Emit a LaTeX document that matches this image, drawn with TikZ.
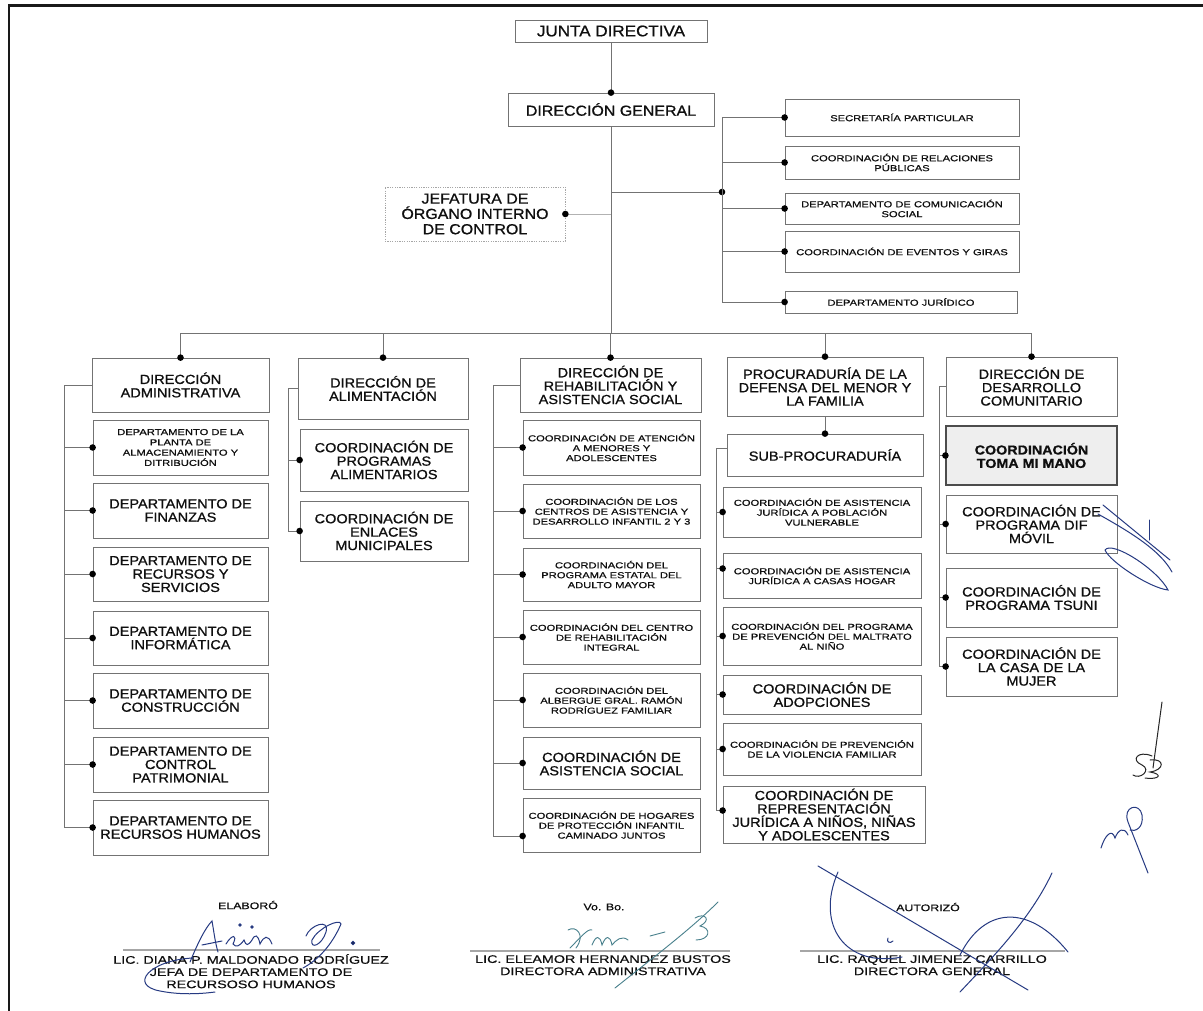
\documentclass[tikz,border=0pt]{standalone}
\usepackage{fontspec}
\setmainfont{Liberation Sans}
\newfontfamily\bigf[FakeStretch=1.1,FakeBold=0.9]{Liberation Sans}
\newfontfamily\smf[FakeStretch=1.3,FakeBold=0.7]{Liberation Sans}
\newfontfamily\sigf[FakeStretch=1.3,FakeBold=0.6]{Liberation Sans}
\usetikzlibrary{calc}
\definecolor{ln}{gray}{0.45}
\definecolor{txt}{gray}{0.06}
\definecolor{ink}{RGB}{38,58,130}
\definecolor{inkb}{RGB}{72,128,140}
\newcommand\bx[7]{\node[box,#2,minimum width={#5-#3},minimum height={#6-#4}] (#1) at ({(#3+#5)/2},{(#4+#6)/2}) {#7};}
\newcommand\dt[1]{\fill (#1) circle[radius=3.3pt];}
\begin{document}
\begin{tikzpicture}[x=1pt,y=-1pt,
  box/.style={draw=ln, line width=0.75pt, inner sep=0pt, align=center, text=txt},
  bigt/.style={font=\bigf\fontsize{13.2}{13.4}\selectfont},
  smt/.style={font=\smf\fontsize{8.6}{9.9}\selectfont},
  conn/.style={draw=ln, line width=0.8pt},
  sig/.style={font=\sigf\fontsize{11}{12.2}\selectfont, text=txt, inner sep=0pt, align=center},
  sigline/.style={draw=gray!70, line width=1.4pt},
  ink/.style={draw=ink, line width=1pt, line cap=round},
  inkb/.style={draw=inkb, line width=0.9pt, line cap=round},
]
\useasboundingbox (0,0) rectangle (1203,1011);
\fill[white] (0,0) rectangle (1203,1011);
% frame
\draw[line width=2.4pt, black!90] (9,1011) -- (9,5.5) -- (1203,5.5);

% ---------- top ----------
\bx{jd}{font=\bigf\fontsize{15.5}{16}\selectfont}{515}{20}{707}{42}{JUNTA DIRECTIVA}
\bx{dg}{font=\bigf\fontsize{14.5}{15}\selectfont}{508}{93}{714}{126}{DIRECCIÓN GENERAL}
\bx{oic}{font=\bigf\fontsize{14.5}{15.3}\selectfont, draw=gray!70, dash pattern=on 1.2pt off 1.2pt}{385}{187}{565}{241}{JEFATURA DE\\ÓRGANO INTERNO\\DE CONTROL}

\bx{s1}{smt}{785}{99}{1019}{136}{SECRETARÍA PARTICULAR}
\bx{s2}{smt}{785}{146}{1019}{179}{COORDINACIÓN DE RELACIONES\\PÚBLICAS}
\bx{s3}{smt}{785}{193}{1019}{224}{DEPARTAMENTO DE COMUNICACIÓN\\SOCIAL}
\bx{s4}{smt}{785}{231}{1019}{272}{COORDINACIÓN DE EVENTOS Y GIRAS}
\bx{s5}{smt}{785}{291}{1017}{313}{DEPARTAMENTO JURÍDICO}

% ---------- column 1 ----------
\bx{da}{bigt}{92}{358}{269}{412}{DIRECCIÓN\\ADMINISTRATIVA}
\bx{a1}{font=\smf\fontsize{8.6}{10.3}\selectfont}{93}{420}{268}{475}{DEPARTAMENTO DE LA\\PLANTA DE\\ALMACENAMIENTO Y\\DITRIBUCIÓN}
\bx{a2}{bigt}{93}{483}{268}{538}{DEPARTAMENTO DE\\FINANZAS}
\bx{a3}{bigt}{93}{547}{268}{601}{DEPARTAMENTO DE\\RECURSOS Y\\SERVICIOS}
\bx{a4}{bigt}{93}{611}{268}{665}{DEPARTAMENTO DE\\INFORMÁTICA}
\bx{a5}{bigt}{93}{673}{268}{728}{DEPARTAMENTO DE\\CONSTRUCCIÓN}
\bx{a6}{bigt}{93}{737}{268}{792}{DEPARTAMENTO DE\\CONTROL\\PATRIMONIAL}
\bx{a7}{bigt}{93}{800}{268}{855}{DEPARTAMENTO DE\\RECURSOS HUMANOS}

% ---------- column 2 ----------
\bx{dal}{bigt}{298}{358}{468}{419}{DIRECCIÓN DE\\ALIMENTACIÓN}
\bx{l1}{bigt}{300}{429}{468}{491}{COORDINACIÓN DE\\PROGRAMAS\\ALIMENTARIOS}
\bx{l2}{bigt}{300}{501}{468}{561}{COORDINACIÓN DE\\ENLACES\\MUNICIPALES}

% ---------- column 3 ----------
\bx{dr}{bigt}{520}{358}{701}{412}{DIRECCIÓN DE\\REHABILITACIÓN Y\\ASISTENCIA SOCIAL}
\bx{r1}{smt}{523}{420}{700}{475}{COORDINACIÓN DE ATENCIÓN\\A MENORES Y\\ADOLESCENTES}
\bx{r2}{smt}{523}{484}{700}{538}{COORDINACIÓN DE LOS\\CENTROS DE ASISTENCIA Y\\DESARROLLO INFANTIL 2 Y 3}
\bx{r3}{smt}{523}{548}{700}{601}{COORDINACIÓN DEL\\PROGRAMA ESTATAL DEL\\ADULTO MAYOR}
\bx{r4}{smt}{523}{610}{700}{664}{COORDINACIÓN DEL CENTRO\\DE REHABILITACIÓN\\INTEGRAL}
\bx{r5}{smt}{523}{673}{700}{727}{COORDINACIÓN DEL\\ALBERGUE GRAL. RAMÓN\\RODRÍGUEZ FAMILIAR}
\bx{r6}{bigt}{523}{737}{700}{789}{COORDINACIÓN DE\\ASISTENCIA SOCIAL}
\bx{r7}{smt}{523}{798}{700}{852}{COORDINACIÓN DE HOGARES\\DE PROTECCIÓN INFANTIL\\CAMINADO JUNTOS}

% ---------- column 4 ----------
\bx{pr}{bigt}{727}{357}{923}{416}{PROCURADURÍA DE LA\\DEFENSA DEL MENOR Y\\LA FAMILIA}
\bx{sp}{bigt}{727}{434}{923}{476}{SUB-PROCURADURÍA}
\bx{p1}{smt}{723}{487}{921}{537}{COORDINACIÓN DE ASISTENCIA\\JURÍDICA A POBLACIÓN\\VULNERABLE}
\bx{p2}{smt}{723}{553}{921}{598}{COORDINACIÓN DE ASISTENCIA\\JURÍDICA A CASAS HOGAR}
\bx{p3}{smt}{723}{607}{921}{665}{COORDINACIÓN DEL PROGRAMA\\DE PREVENCIÓN DEL MALTRATO\\AL NIÑO}
\bx{p4}{bigt}{723}{675}{921}{714}{COORDINACIÓN DE\\ADOPCIONES}
\bx{p5}{smt}{723}{723}{921}{775}{COORDINACIÓN DE PREVENCIÓN\\DE LA VIOLENCIA FAMILIAR}
\bx{p6}{bigt}{723}{786}{925}{843}{COORDINACIÓN DE\\REPRESENTACIÓN\\JURÍDICA A NIÑOS, NIÑAS\\Y ADOLESCENTES}

% ---------- column 5 ----------
\bx{dd}{bigt}{946}{357}{1117}{416}{DIRECCIÓN DE\\DESARROLLO\\COMUNITARIO}
\bx{d1}{font=\bigf\bfseries\fontsize{13}{13.4}\selectfont, fill=gray!13, draw=black!70, line width=1.2pt}{946}{426}{1117}{485}{COORDINACIÓN\\TOMA MI MANO}
\bx{d2}{bigt}{946}{495}{1117}{553}{COORDINACIÓN DE\\PROGRAMA DIF\\MÓVIL}
\bx{d3}{bigt}{946}{568}{1117}{627}{COORDINACIÓN DE\\PROGRAMA TSUNI}
\bx{d4}{bigt}{946}{637}{1117}{696}{COORDINACIÓN DE\\LA CASA DE LA\\MUJER}

% ---------- connectors ----------
\coordinate (bus) at (611,333);
\coordinate (rj) at (722,192);
\coordinate (barA) at (64,385);
\coordinate (barL) at (288,388.5);
\coordinate (barR) at (493,385);
\coordinate (barP) at (716,448);
\coordinate (barD) at (939,386.5);

\draw[conn] (jd) -- (dg);
\dt{dg.north}
\draw[conn] (dg.south) -- (bus);
\draw[conn] (da.north |- bus) -- (dd.north |- bus);
\foreach \n in {da,dal,dr,pr,dd}{\draw[conn] (\n.north |- bus) -- (\n.north); \dt{\n.north}}

% staff
\draw[conn] (dg.south |- rj) -- (rj);
\dt{rj}
\draw[conn] (rj |- s1.west) -- (rj |- s5.west);
\foreach \n in {s1,s2,s3,s4,s5}{\draw[conn] (rj |- \n.west) -- (\n.west); \dt{\n.west}}
\draw[draw=gray!60, line width=0.9pt] (oic.east) -- (oic.east -| dg.south);
\dt{oic.east}

% column 1
\draw[conn] (da.west) -- (barA) |- (a7.west);
\foreach \n in {a1,a2,a3,a4,a5,a6,a7}{\draw[conn] (barA |- \n.west) -- (\n.west); \dt{\n.west}}
% column 2
\draw[conn] (dal.west) -- (barL) |- (l2.west);
\foreach \n in {l1,l2}{\draw[conn] (barL |- \n.west) -- (\n.west); \dt{\n.west}}
% column 3
\draw[conn] (dr.west) -- (barR) |- ($(r7.west)+(0,11)$);
\foreach \n in {r1,r2,r3,r4,r5,r6}{\draw[conn] (barR |- \n.west) -- (\n.west); \dt{\n.west}}
\dt{$(r7.west)+(0,11)$}
% column 4
\draw[conn] (pr.south) -- (sp.north);
\dt{sp.north}
\draw[conn] (sp.west |- barP) -- (barP) |- ($(p6.west)+(0,-4)$);
\foreach \n in {p1,p3,p4,p5}{\draw[conn] (barP |- \n.west) -- (\n.west); \dt{\n.west}}
\coordinate (p2d) at ($(p2.west)+(0,-7)$);
\draw[conn] (barP |- p2d) -- (p2d); \dt{p2d}
\dt{$(p6.west)+(0,-4)$}
% column 5
\draw[conn] (dd.west) -- (barD) |- (d4.west);
\foreach \n in {d1,d2,d3,d4}{\draw[conn] (barD |- \n.west) -- (\n.west); \dt{\n.west}}

% ---------- signatures ----------
\node[sig, font=\sigf\fontsize{9.5}{11}\selectfont] (h1) at (248,905) {ELABORÓ};
\node[sig, font=\sigf\fontsize{9.5}{11}\selectfont] (h2) at (604,907) {Vo. Bo.};
\node[sig, font=\sigf\fontsize{9.5}{11}\selectfont] (h3) at (928,907) {AUTORIZÓ};
\draw[sigline] (123,950) -- (380,950);
\draw[sigline] (470,951) -- (730,951);
\draw[sigline] (800,951) -- (1065,951);
\node[sig, anchor=north] (n1) at (251,954) {LIC. DIANA P. MALDONADO RODRÍGUEZ\\JEFA DE DEPARTAMENTO DE\\RECURSOSO HUMANOS};
\node[sig, anchor=north] (n2) at (603,955) {LIC. ELEAMOR HERNANDEZ BUSTOS\\DIRECTORA ADMINISTRATIVA};
\node[sig, anchor=north] (n3) at (932,955) {LIC. RAQUEL JIMENEZ CARRILLO\\DIRECTORA GENERAL};

% handwritten marks
\draw[ink] (190,962) .. controls (197,945) and (205,928) .. (212,921) .. controls (214,932) and (215,942) .. (218,952);
\draw[ink] (202,945) -- (222,941);
\draw[ink] (226,944) .. controls (232,934) and (238,934) .. (233,944) .. controls (236,948) and (240,946) .. (244,940) .. controls (246,946) and (248,946) .. (252,940) .. controls (255,934) and (258,934) .. (260,944) .. controls (264,936) and (268,934) .. (272,944);
\fill[ink] (240,925) circle[radius=1.2pt] (252,927) circle[radius=1.2pt] (353,943) circle[radius=1.6pt];
\draw[ink] (306,936) .. controls (310,925) and (330,918) .. (326,932) .. controls (322,945) and (310,950) .. (312,940) .. controls (318,928) and (340,918) .. (341,924) .. controls (332,945) and (318,960) .. (303,968);
\draw[ink] (193,958) .. controls (150,960) and (128,985) .. (160,991) .. controls (180,995) and (200,994) .. (215,992);

\draw[inkb] (718,902) .. controls (690,930) and (650,960) .. (615,988);
\draw[inkb] (568,930) .. controls (576,925) and (586,935) .. (576,948);
\draw[inkb] (570,948) .. controls (580,938) and (588,928) .. (592,930);
\draw[inkb] (592,945) .. controls (596,935) and (600,935) .. (602,945) .. controls (606,935) and (610,935) .. (612,945) .. controls (616,940) and (622,935) .. (628,940);
\draw[inkb] (650,936) -- (665,932);
\draw[inkb] (695,918) .. controls (705,912) and (712,920) .. (700,926) .. controls (712,928) and (710,940) .. (696,940);

\draw[ink] (818,866) -- (1028,990);
\draw[ink] (838,872) .. controls (815,925) and (845,968) .. (902,957);
\draw[ink] (1052,873) .. controls (1030,920) and (990,960) .. (960,992);
\draw[ink] (960,955) .. controls (985,905) and (1030,905) .. (1068,952);
\draw[ink] (888,938) .. controls (886,942) and (890,944) .. (893,941);

\draw[ink] (1103,505) -- (1170,560);
\draw[ink] (1149,520) -- (1149,540);
\draw[ink] (1098,514) .. controls (1130,532) and (1160,550) .. (1172,572);
\draw[ink] (1105,550) .. controls (1112,540) and (1158,570) .. (1168,590) .. controls (1150,588) and (1110,562) .. (1105,550);
\draw[black!85, line width=1pt, line cap=round] (1162,702) -- (1153,768);
\draw[black!85, line width=1pt, line cap=round] (1152,756) .. controls (1138,750) and (1130,760) .. (1142,765) .. controls (1152,770) and (1140,780) .. (1133,775) (1150,760) .. controls (1165,758) and (1165,770) .. (1150,772) .. controls (1163,774) and (1160,780) .. (1145,778);
\draw[ink] (1148,873) -- (1128,822) .. controls (1122,806) and (1140,802) .. (1142,815) .. controls (1144,828) and (1135,832) .. (1130,830);
\draw[ink] (1101,848) .. controls (1105,835) and (1112,828) .. (1115,838) .. controls (1118,830) and (1124,826) .. (1128,835);
\end{tikzpicture}
\end{document}
